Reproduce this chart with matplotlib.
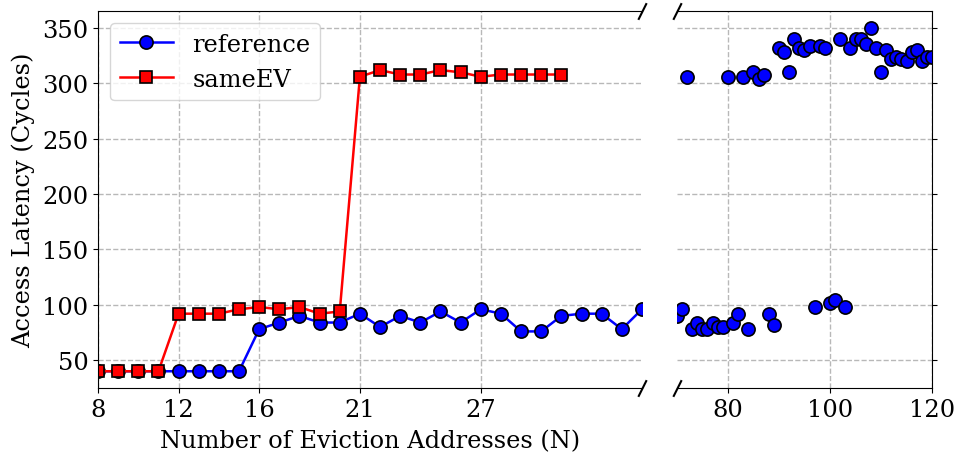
import numpy as np
import matplotlib
matplotlib.use("Agg")
import matplotlib.pyplot as plt

plt.rcParams['font.family'] = 'DejaVu Serif'
plt.rcParams['font.size'] = 17.4

# left panel data (N = 8..35)
n_left = list(range(8, 36))
ref_left = [40, 40, 40, 40, 40, 40, 40, 40, 78, 84, 90, 84, 84, 92, 80, 90,
            84, 94, 84, 96, 92, 76, 76, 90, 92, 92, 78, 96]
n_same = list(range(8, 32))
same_ev = [40, 40, 40, 40, 92, 92, 92, 96, 98, 96, 98, 92, 94, 306, 312, 308,
           308, 312, 310, 306, 308, 308, 308, 308]

# right panel data (N = 70..120), markers only
n_right = list(range(70, 121))
ref_right = [90, 96, 306, 78, 84, 78, 78, 84, 80, 80, 306, 84, 92, 306, 78, 310,
             304, 308, 92, 82, 332, 328, 310, 340, 332, 330, 334, 98, 334, 332,
             102, 104, 340, 98, 332, 340, 340, 336, 350, 332, 310, 330, 322, 324,
             322, 320, 328, 330, 320, 324, 324]

left_ticks = [8, 12, 16, 21, 27]
right_ticks = [80, 100, 120]
ylim = (24.5, 365.5)

fig = plt.figure(figsize=(9.56, 4.56), dpi=100)
ax1 = fig.add_axes([0.1025, 0.146, 0.569, 0.828])
ax2 = fig.add_axes([0.708, 0.146, 0.267, 0.828])

mk_ref = dict(color='blue', marker='o', markersize=9.5, markeredgecolor='black',
              markeredgewidth=1.2, linewidth=1.8)
mk_same = dict(color='red', marker='s', markersize=8.8, markeredgecolor='black',
               markeredgewidth=1.2, linewidth=1.8)

ax1.plot(n_left, ref_left, label='reference', **mk_ref)
ax1.plot(n_same, same_ev, label='sameEV', **mk_same)
ax2.plot(n_right, ref_right, linestyle='none', **mk_ref)

ax1.set_xlim(8, 35)
ax2.set_xlim(70, 120)
for ax in (ax1, ax2):
    ax.set_ylim(*ylim)
    ax.set_yticks([50, 100, 150, 200, 250, 300, 350])
    ax.grid(True, linestyle='--', color='#b8b8b8', linewidth=1)
    ax.set_axisbelow(True)

ax1.set_xticks(left_ticks)
ax2.set_xticks(right_ticks)
ax1.spines['right'].set_visible(False)
ax2.spines['left'].set_visible(False)
ax2.yaxis.tick_right()
ax2.tick_params(labelright=False)

ax1.set_ylabel('Access Latency (Cycles)', labelpad=5)
ax1.set_xlabel('Number of Eviction Addresses (N)', labelpad=6)
ax1.legend(loc='upper left', handlelength=2.2)

# break marks
brk = dict(marker=[(-0.5, -1), (0.5, 1)], markersize=12, linestyle='none',
           color='k', mec='k', mew=1.5, clip_on=False)
ax1.plot([1, 1], [0, 1], transform=ax1.transAxes, **brk)
ax2.plot([0, 0], [0, 1], transform=ax2.transAxes, **brk)

fig.savefig('out.png', dpi=100)
